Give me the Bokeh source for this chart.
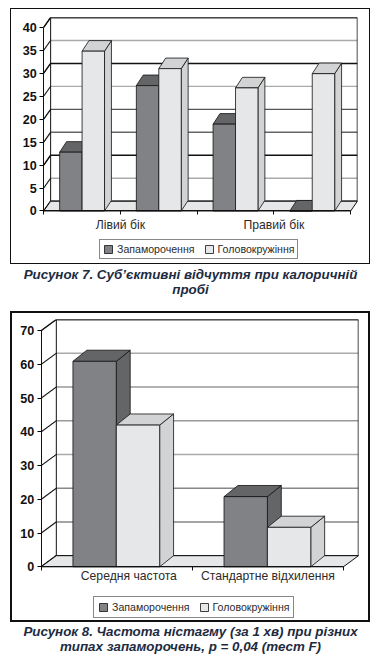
from bokeh.plotting import figure
from bokeh.layouts import column
from bokeh.models import Div, FixedTicker, Legend, LegendItem
from bokeh.embed import file_html
from bokeh.resources import INLINE

series_names = ["Запаморочення", "Головокружіння"]

fig7_labels = ["Лівий бік", "Правий бік"]
fig7_dark = [12.8, 27.3, 18.9, 0.0]
fig7_light = [34.8, 31.0, 26.8, 29.9]
fig7_ticks = [0, 5, 10, 15, 20, 25, 30, 35, 40]
fig7_grid_colors = ["#111111", "#aaaaaa", "#111111", "#666666", "#555555", "#aaaaaa", "#111111", "#aaaaaa", "#111111"]

fig8_labels = ["Середня частота", "Стандартне відхилення"]
fig8_dark = [60.9, 20.8]
fig8_light = [42.0, 11.7]
fig8_ticks = [0, 10, 20, 30, 40, 50, 60, 70]
fig8_grid_colors = ["#111111", "#888888", "#888888", "#aaaaaa", "#999999", "#999999", "#aaaaaa", "#333333"]

DARK, DARK_SIDE = "#808285", "#646567"
LIGHT, LIGHT_SIDE = "#e6e7e8", "#d1d3d4"
TXT = "#2b2b2b"
CAP = "color:#1d2b3f;font:italic bold 13.35px 'Liberation Sans';text-align:center;line-height:15px;"


def chart(W, H, x_start, top, border, n, ymax, y_start, ticks, grid_colors, dark, light, centers, bw,
          wall_dx, wall_dy, bar_dx, bar_dy, tick_cfg, labels, legend_xy, standoff, pad):
    x_end = n + wall_dx
    y_end = ymax + wall_dy
    p = figure(width=W, height=H, x_range=(x_start, x_end), y_range=(y_start, y_end), output_backend="svg",
               toolbar_location=None, min_border_left=0, min_border_right=border[0],
               min_border_top=top, min_border_bottom=0)
    p.outline_line_color = None
    p.grid.visible = False
    p.styles = {"border": f"{border[1]}px solid #111", "box-sizing": "content-box"}

    p.multi_line([[0, wall_dx, x_end] for _ in ticks], [[t, t + wall_dy, t + wall_dy] for t in ticks],
                 line_color=grid_colors, line_width=1.4)
    p.multi_line([[0, wall_dx] for _ in ticks], [[t, t + wall_dy] for t in ticks], line_color="#111111", line_width=1)
    p.line([wall_dx, wall_dx], [wall_dy, y_end], line_color="#111111", line_width=1)
    p.line([x_end, x_end], [wall_dy, y_end], line_color="#111111", line_width=1.5)
    p.line([wall_dx, x_end], [y_end, y_end], line_color="#111111", line_width=1.5)
    p.patch([0, n, x_end, wall_dx], [0, 0, wall_dy, wall_dy], fill_color=LIGHT, line_color="#111111", line_width=1)

    def bars(vals, off, front, side, top_col):
        xl = [c + off - bw / 2 for c in centers]
        xr = [c + off + bw / 2 for c in centers]
        p.patches([[r, r + bar_dx, r + bar_dx, r] for r in xr],
                  [[0, bar_dy, v + bar_dy, v] for v in vals], fill_color=side, line_color="#111111", line_width=0.8)
        p.patches([[l, r, r + bar_dx, l + bar_dx] for l, r in zip(xl, xr)],
                  [[v, v, v + bar_dy, v + bar_dy] for v in vals], fill_color=top_col, line_color="#111111", line_width=0.8)
        return p.vbar(x=[c + off for c in centers], top=vals, bottom=0, width=bw, fill_color=front,
                      line_color="#111111", line_width=0.8)

    r1 = bars(dark, -bw / 2, DARK, DARK_SIDE, DARK_SIDE)
    r2 = bars(light, bw / 2, LIGHT, LIGHT_SIDE, LIGHT_SIDE)

    ya = p.yaxis[0]
    ya.fixed_location = 0
    ya.ticker = FixedTicker(ticks=ticks)
    ya.major_label_text_font = "Liberation Sans"
    ya.major_label_text_font_style = "bold"
    ya.major_label_text_font_size = "12.6px"
    ya.major_label_text_color = "#111111"
    ya.major_tick_out = 4
    ya.major_tick_in = 0
    ya.minor_tick_line_color = None
    ya.axis_line_color = "#111111"
    ya.major_label_standoff = 3
    ya.bounds = (0, ymax)

    xa = p.xaxis[0]
    xa.fixed_location = 0
    xa.ticker = FixedTicker(ticks=tick_cfg[0], minor_ticks=tick_cfg[1])
    xa.major_label_overrides = dict(zip(tick_cfg[0], labels))
    xa.major_label_text_font = "Liberation Sans"
    xa.major_label_text_font_size = "12.2px"
    xa.major_label_text_color = TXT
    xa.major_tick_in = 0
    xa.major_tick_out = 0
    xa.minor_tick_in = 0
    xa.minor_tick_out = 4
    xa.minor_tick_line_color = "#111111"
    xa.axis_line_color = "#111111"
    xa.major_label_standoff = standoff
    xa.bounds = (0, n)

    leg = Legend(items=[LegendItem(label=series_names[0], renderers=[r1]),
                        LegendItem(label=series_names[1], renderers=[r2])],
                 location=legend_xy, orientation="horizontal", margin=0, padding=pad, spacing=9,
                 glyph_width=10, glyph_height=10, label_standoff=4, label_text_font="Liberation Sans",
                 label_text_font_size="10.6px", label_text_color=TXT, border_line_color="#111111",
                 border_line_width=1, background_fill_alpha=1, label_height=10)
    p.add_layout(leg)
    return p


p7 = chart(358, 254, -0.42, 8, (10, 1), 4, 40, -11.87, fig7_ticks, fig7_grid_colors, fig7_dark, fig7_light,
           [0.5, 1.5, 2.5, 3.5], 0.2925, 0.09, 2.13, 0.09, 2.3,
           ([1, 3], [0, 1, 2, 3, 4]), fig7_labels, (88, 6), 3, 3)
p7.margin = (8, 0, 0, 10)

p8 = chart(356, 307, -0.19, 6, (14, 2), 2, 70, -17.1, fig8_ticks, fig8_grid_colors, fig8_dark, fig8_light,
           [0.497, 1.497], 0.287, 0.1, 3.3, 0.092, 3.3,
           ([0.58, 1.5], [0, 1, 2]), fig8_labels, (81, 6), -2, 4)
p8.margin = (0, 0, 0, 10)

cap7 = Div(text=f"<div style=\"{CAP}width:361px;padding-top:3px\">Рисунок 7. Суб’єктивні відчуття при калоричній<br>пробі</div>",
           width=361, height=47, margin=(0, 0, 0, 10))
cap8 = Div(text=f"<div style=\"{CAP}width:361px;padding-top:2px\">Рисунок 8. Частота ністагму (за 1 хв) при різних<br>типах запаморочень, р = 0,04 (тест F)</div>",
           width=361, height=36, margin=(0, 0, 0, 10))

page = column(p7, cap7, p8, cap8, spacing=0)
open("out.html", "w").write(file_html(page, INLINE))
